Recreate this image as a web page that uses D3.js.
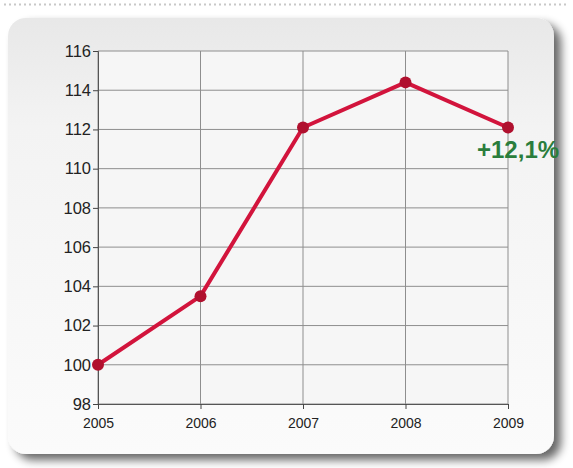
<!DOCTYPE html>
<html>
<head>
<meta charset="utf-8">
<script src="https://cdn.jsdelivr.net/npm/d3@7"></script>
<style>
  html, body { margin: 0; padding: 0; background: #ffffff; }
  svg { display: block; }
</style>
</head>
<body>
<svg id="chart" width="573" height="468"></svg>
<script>
// Index values per year (2005 = 100)
const years = ["2005", "2006", "2007", "2008", "2009"];
const values = [100, 103.5, 112.1, 114.4, 112.1];
const yTicks = [98, 100, 102, 104, 106, 108, 110, 112, 114, 116];
const changeLabel = "+12,1%";

const svg = d3.select("#chart");
const W = 573, H = 468;

const defs = svg.append("defs");
const bg = defs.append("linearGradient").attr("id", "cardFill")
  .attr("x1", 0).attr("y1", 0).attr("x2", 0).attr("y2", 1);
bg.append("stop").attr("offset", "0%").attr("stop-color", "#e8e8e8");
bg.append("stop").attr("offset", "25%").attr("stop-color", "#f3f3f3");
bg.append("stop").attr("offset", "100%").attr("stop-color", "#fbfbfb");

const shadow = defs.append("filter").attr("id", "cardShadow")
  .attr("x", "-10%").attr("y", "-10%").attr("width", "125%").attr("height", "125%");
shadow.append("feGaussianBlur").attr("in", "SourceAlpha").attr("stdDeviation", 5).attr("result", "b");
shadow.append("feOffset").attr("in", "b").attr("dx", 7).attr("dy", 6).attr("result", "o");
shadow.append("feComponentTransfer").attr("in", "o").attr("result", "s")
  .append("feFuncA").attr("type", "linear").attr("slope", 0.6);
const merge = shadow.append("feMerge");
merge.append("feMergeNode").attr("in", "s");
merge.append("feMergeNode").attr("in", "SourceGraphic");

// dotted rule along the top
svg.append("line")
  .attr("x1", 4).attr("x2", W - 4).attr("y1", 4.5).attr("y2", 4.5)
  .attr("stroke", "#c8c8c8").attr("stroke-width", 2).attr("stroke-dasharray", "2,3");

// card panel
svg.append("rect")
  .attr("x", 8).attr("y", 18).attr("width", 546).attr("height", 436)
  .attr("rx", 18).attr("ry", 18)
  .attr("fill", "url(#cardFill)")
  .attr("filter", "url(#cardShadow)");

const x = d3.scalePoint().domain(years).range([98, 508]);
const y = d3.scaleLinear().domain([98, 116]).range([404, 51]);

const plot = svg.append("g");

// plot background
plot.append("rect")
  .attr("x", x.range()[0]).attr("y", y(116))
  .attr("width", x.range()[1] - x.range()[0]).attr("height", y(98) - y(116))
  .attr("fill", "#f6f6f6");

// horizontal gridlines
plot.selectAll("line.hg").data(yTicks).join("line")
  .attr("class", "hg")
  .attr("x1", x.range()[0]).attr("x2", x.range()[1])
  .attr("y1", d => y(d)).attr("y2", d => y(d))
  .attr("stroke", "#8e8e8e").attr("stroke-width", 1);

// vertical gridlines
plot.selectAll("line.vg").data(years).join("line")
  .attr("class", "vg")
  .attr("x1", d => x(d)).attr("x2", d => x(d))
  .attr("y1", y(116)).attr("y2", y(98))
  .attr("stroke", "#8e8e8e").attr("stroke-width", 1);

// y axis
const yAxis = svg.append("g")
  .attr("transform", `translate(${x.range()[0]},0)`)
  .call(d3.axisLeft(y).tickValues(yTicks).tickSize(5).tickPadding(2));
yAxis.select(".domain").attr("stroke", "#555");
yAxis.selectAll(".tick line").attr("stroke", "#444");
yAxis.selectAll("text")
  .attr("font-family", "Arial, 'Liberation Sans', sans-serif")
  .attr("font-size", 16.5).attr("fill", "#222");

// x axis
const xAxis = svg.append("g")
  .attr("transform", `translate(0,${y(98)})`)
  .call(d3.axisBottom(x).tickSize(5).tickPadding(9));
xAxis.select(".domain").attr("stroke", "#555");
xAxis.selectAll(".tick line").attr("stroke", "#444");
xAxis.selectAll("text")
  .attr("font-family", "Arial, 'Liberation Sans', sans-serif")
  .attr("font-size", 14).attr("fill", "#222");

const pts = years.map((yr, i) => ({ yr, v: values[i] }));

// series line
svg.append("path")
  .datum(pts)
  .attr("fill", "none")
  .attr("stroke", "#d2143c")
  .attr("stroke-width", 4)
  .attr("stroke-linejoin", "round")
  .attr("d", d3.line().x(d => x(d.yr)).y(d => y(d.v)));

// markers
svg.selectAll("circle.pt").data(pts).join("circle")
  .attr("class", "pt")
  .attr("cx", d => x(d.yr)).attr("cy", d => y(d.v))
  .attr("r", 6)
  .attr("fill", "#b0102e");

// change label beside the last point
const last = pts[pts.length - 1];
svg.append("text")
  .attr("x", x(last.yr) - 31).attr("y", y(last.v) + 31)
  .attr("text-anchor", "start")
  .attr("font-family", "Arial, 'Liberation Sans', sans-serif")
  .attr("font-weight", "bold")
  .attr("font-size", 24)
  .attr("fill", "#2a7d3c")
  .text(changeLabel);
</script>
</body>
</html>
